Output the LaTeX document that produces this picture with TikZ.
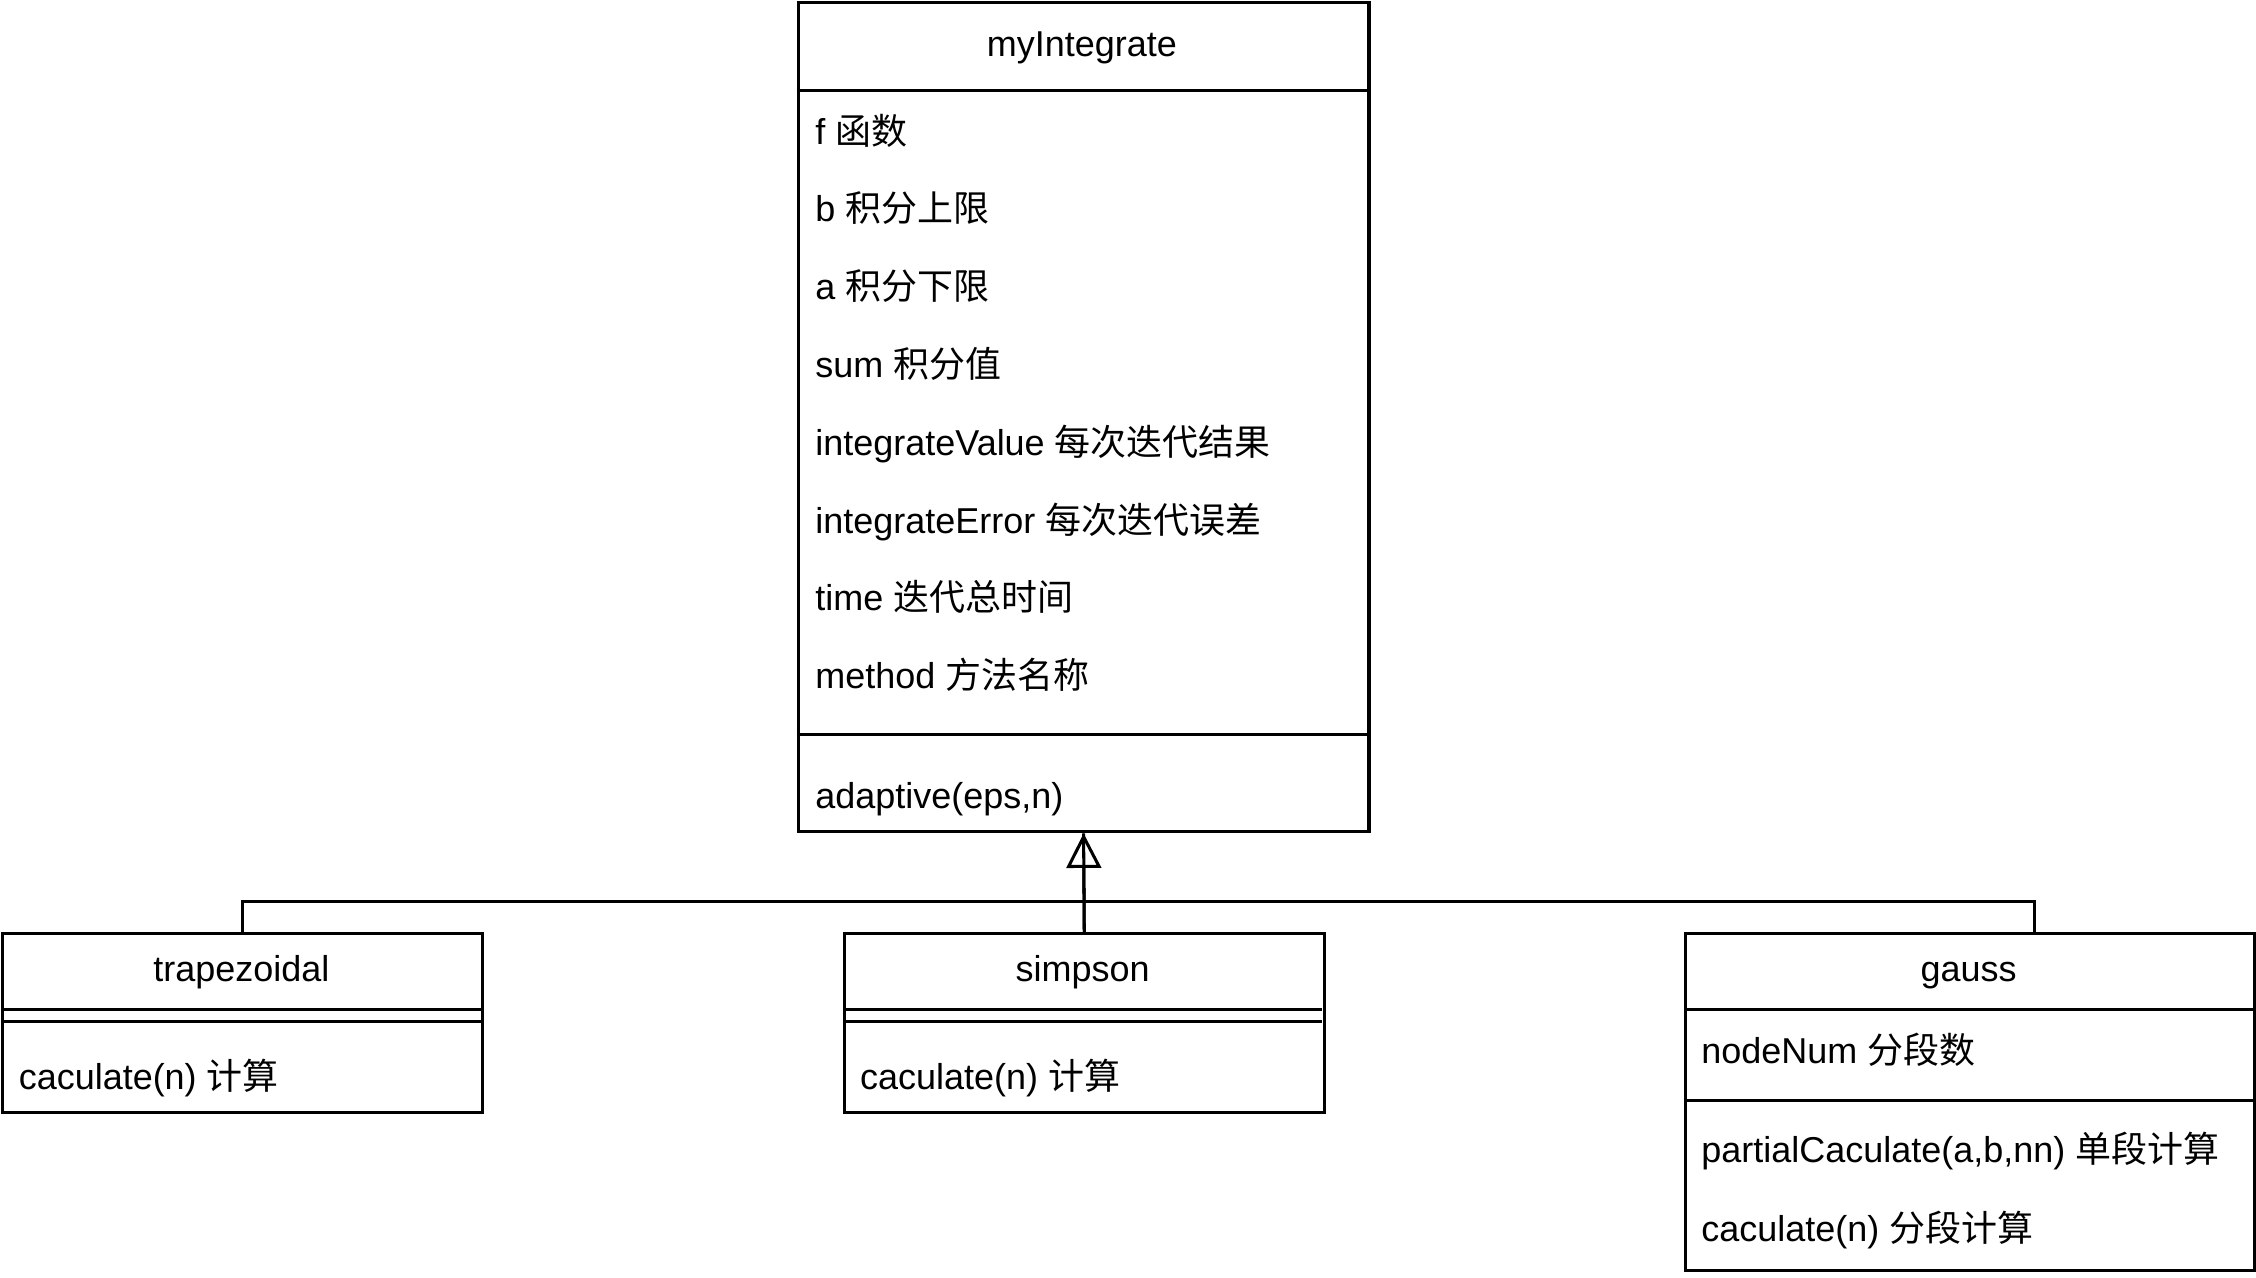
\documentclass[tikz,border=0pt]{standalone}
\usepackage{fontspec}
\setmainfont{Liberation Sans}
\newfontfamily\cjk{Noto Sans CJK SC}
\usetikzlibrary{arrows.meta}
\newcommand\zh[1]{{\cjk #1}}
\tikzset{
  cls/.style={draw,inner sep=0pt,anchor=north west},
  head/.style={font=\fontsize{7.1}{8.5}\selectfont,inner sep=0pt,anchor=base},
  item/.style={font=\fontsize{7.1}{8.5}\selectfont,inner sep=0pt,anchor=base west},
  gen/.style={postaction={draw,-{Triangle[open,length=0.24cm,width=0.24cm]}}}
}
\begin{document}
\begin{tikzpicture}[x=0.01cm,y=-0.01cm,line width=0.6pt]
\useasboundingbox (0,0) rectangle (1566,887);
\node[cls,minimum width=3.96cm,minimum height=5.75cm] (integ) at (553,1) {};
\draw (553,63)--(949,63) (553,510)--(949,510);
\node[head] (integ-t) at (751,39) {myIntegrate};
\foreach \lbl [count=\i] in {f \zh{函数}, b \zh{积分上限}, a \zh{积分下限}, sum \zh{积分值}, integrateValue \zh{每次迭代结果}, integrateError \zh{每次迭代误差}, time \zh{迭代总时间}, method \zh{方法名称}}
  \node[item] (integ-a\i) at (565,46+54*\i) {\lbl};
\node[item] (integ-m) at (565,561) {adaptive(eps,n)};
\foreach \name/\lbl/\x in {trap/trapezoidal/1, simp/simpson/585}{
  \node[cls,minimum width=3.33cm,minimum height=1.24cm] (\name) at (\x,647) {};
  \draw (\x,701)--++(333,0) (\x,709)--++(333,0);
  \node[head] (\name-t) at (\x+166.5,681) {\lbl};
  \node[item] (\name-m) at (\x+11,756) {caculate(n) \zh{计算}};
}
\node[cls,minimum width=3.95cm,minimum height=2.34cm] (gauss) at (1169,647) {};
\draw (1169,701)--(1564,701) (1169,764)--(1564,764);
\node[head] (gauss-t) at (1366.5,681) {gauss};
\node[item] (gauss-a1) at (1180,738) {nodeNum \zh{分段数}};
\node[item] (gauss-m1) at (1180,807) {partialCaculate(a,b,nn) \zh{单段计算}};
\node[item] (gauss-m2) at (1180,862) {caculate(n) \zh{分段计算}};
\coordinate (bus) at (751,626);
\coordinate (gdock) at (1412,647);
\draw (trap.north) |- (bus) -| (gdock);
\draw[gen] (simp.north) -- (integ.south);
\end{tikzpicture}
\end{document}
